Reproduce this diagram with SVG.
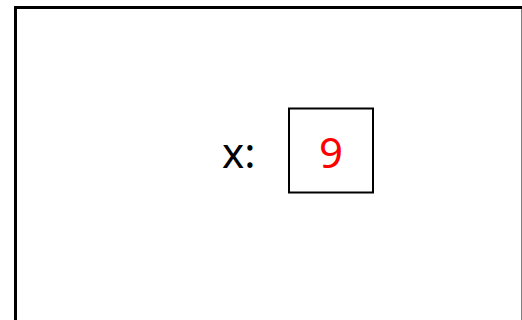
<svg xmlns="http://www.w3.org/2000/svg" width="522" height="320" viewBox="0 0 522 320">
<style>
.lbl{font-family:"Noto Sans","DejaVu Sans",sans-serif;font-size:42px;}
</style>
<rect x="0" y="0" width="522" height="320" fill="#fff"/>
<g id="frame"><rect x="15.5" y="7.5" width="507.5" height="330" fill="none" stroke="#000" stroke-width="3"/></g>
<g id="var-x">
<text class="lbl" x="222" y="167.5" fill="#000">x:</text>
<rect x="289" y="108.5" width="84" height="84" fill="#fff" stroke="#000" stroke-width="2"/>
<text class="lbl" x="331" y="167.5" fill="#f00" text-anchor="middle">9</text>
</g>
</svg>
